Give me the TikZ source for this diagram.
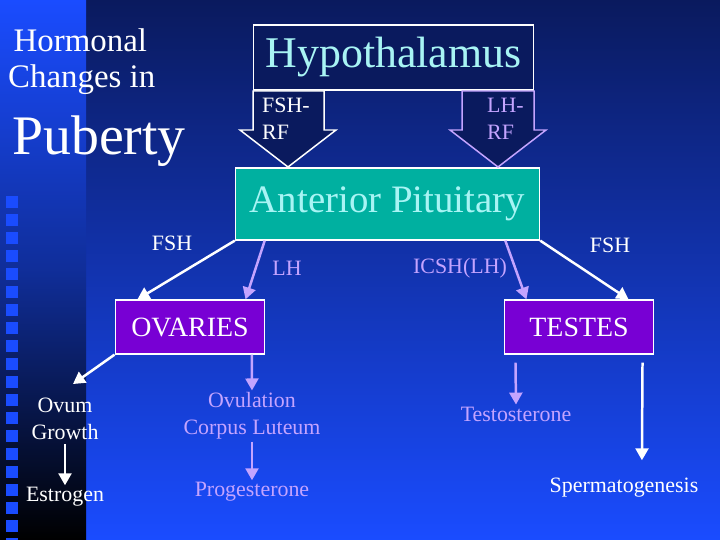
\documentclass[tikz,border=0pt]{standalone}
\usepackage{fontspec}
\setmainfont{Liberation Serif}
\usetikzlibrary{positioning,arrows.meta}
\definecolor{navy}{HTML}{0A1A5E}
\definecolor{bright}{HTML}{1A4CFF}
\definecolor{lav}{HTML}{C4A4FF}
\definecolor{aqua}{HTML}{A8F4F4}
\definecolor{teal2}{HTML}{00B0A0}
\definecolor{violet2}{HTML}{7800D4}
\tikzstyle{organ} = [rectangle, draw=white, line width=1.5pt, fill=violet2, text=white, minimum width=150, minimum height=54, font=\fontsize{28}{30}\selectfont]
\tikzstyle{label} = [text=white, align=center, font=\fontsize{22}{27}\selectfont, inner sep=0pt]
\tikzstyle{lavlabel} = [label, text=lav]
\tikzstyle{arrow} = [line width=2.5pt, -{Triangle[length=12pt,width=13pt]}]

\begin{document}
\begin{tikzpicture}[x=1bp, y=-1bp]
\useasboundingbox (0,0) rectangle (720,540);
%背景
\shade[top color=navy, bottom color=bright] (0,0) rectangle (720,540);
\shade[top color=bright, bottom color=black, middle color=bright!60!black] (0,0) rectangle (86,540);
\foreach \y in {196,214,...,540}
  \fill[bright] (6,\y) rectangle (18,\y+12);

%标题
\node (title) [label, anchor=north west, align=left, font=\fontsize{33}{37}\selectfont] at (8,28) {\,Hormonal\\Changes in};
\node (pub) [label, anchor=north west, font=\fontsize{56}{56}\selectfont] at (12,116) {Puberty};

%定义流程图具体形状
\node (hyp) [rectangle, draw=white, line width=1.5pt, fill=navy, text=aqua, minimum width=281, minimum height=65, font=\fontsize{44}{44}\selectfont] at (393.5,57.5) {Hypothalamus};
\node (ant) [rectangle, draw=white, line width=1.5pt, fill=teal2, text=aqua, minimum width=305, minimum height=72, font=\fontsize{39}{39}\selectfont] at (387.5,204) {Anterior Pituitary};
\node (ova) [organ] at (190,327) {OVARIES};
\node (tes) [organ] at (579,327) {TESTES};

\node (ovum) [label] at (65,419) {Ovum\\Growth};
\node (est) [label] at (65,497) {Estrogen};
\node (ovul) [lavlabel] at (252,416) {Ovulation\\Corpus Luteum};
\node (prog) [lavlabel] at (252,492) {Progesterone};
\node (testo) [lavlabel] at (516,414) {Testosterone};
\node (sperm) [label] at (624,488) {Spermatogenesis};

\node (fshl) [label] at (172,243) {FSH};
\node (lhl) [lavlabel] at (287,268) {LH};
\node (icsh) [lavlabel] at (460,268) {ICSH(LH)};
\node (fshr) [label] at (610,245) {FSH};

%释放因子
\draw[white, line width=1.5pt, fill=navy] (253,91) -- (324,91) -- (324,130) -- (336,130) -- (288,167) -- (240,130) -- (253,130) -- cycle;
\draw[lav, line width=1.5pt, fill=navy] (462,91) -- (534,91) -- (534,130) -- (546,130) -- (498,167) -- (450,130) -- (462,130) -- cycle;
\node (fshrf) [label, align=left, anchor=north west] at (262,98) {FSH-\\RF};
\node (lhrf) [lavlabel, align=left, anchor=north west] at (487,98) {LH-\\RF};

%连接具体形状
\draw [arrow, white] (ant.south west) -- ([xshift=23]ova.north west);
\draw [arrow, lav] ([xshift=30]ant.south west) -- ([xshift=-20]ova.north east);
\draw [arrow, lav] ([xshift=-35]ant.south east) -- ([xshift=23]tes.north west);
\draw [arrow, white] (ant.south east) -- ([xshift=-26]tes.north east);

%OVARIES
\draw [arrow, white] (ova.south west) -- ([xshift=8,yshift=14]ovum.north);
\draw [arrow, lav] ([xshift=62]ova.south) -- ([yshift=2]ovul.north);
\draw [arrow, white] ([yshift=-4]ovum.south) -- ([yshift=2]est.north);
\draw [arrow, lav] ([yshift=-2]ovul.south) -- ([yshift=2]prog.north);

%TESTES
\draw [arrow, lav] ([xshift=12,yshift=-8]tes.south west) -- ([yshift=2]testo.north);
\draw [arrow, white] ([xshift=-12,yshift=-8]tes.south east) -- ([xshift=18,yshift=18]sperm.north);
\end{tikzpicture}
\end{document}
